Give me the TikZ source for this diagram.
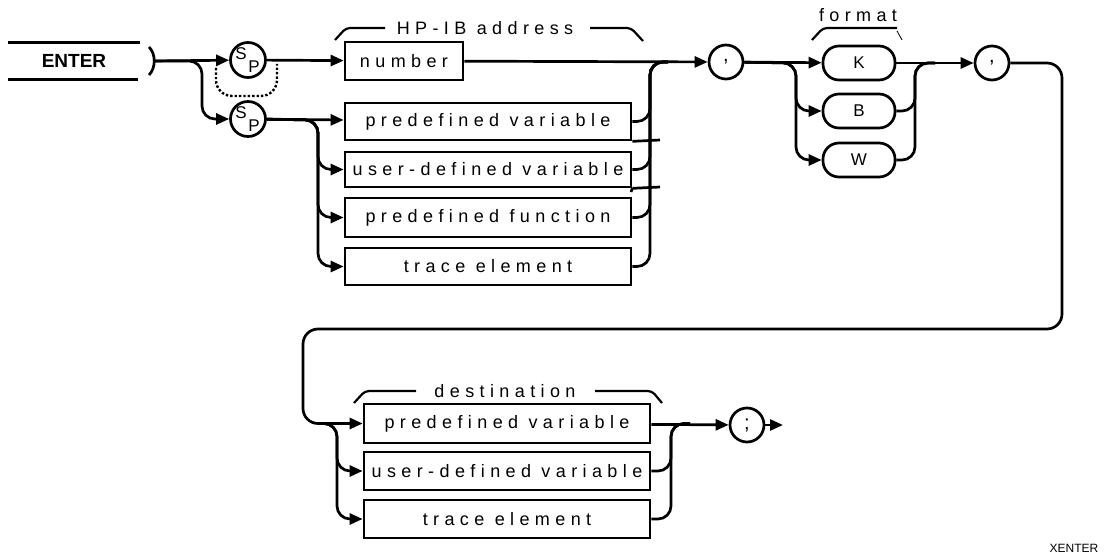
\documentclass[tikz,border=0pt]{standalone}
\usepackage{fontspec}
\setmainfont{Liberation Sans}
\newfontfamily\labf[LetterSpace=30]{Liberation Sans}
\newfontfamily\plainf{Liberation Sans}
\usetikzlibrary{arrows.meta}
\begin{document}
\begin{tikzpicture}[x=1pt,y=-1pt,
  line width=2.7pt,
  arr/.style={-{Triangle[length=13pt,width=11pt]}},
  lab/.style={font=\labf\fontsize{18}{18}\selectfont},
  box/.style={draw, rectangle, inner sep=0pt, minimum width=286pt, minimum height=37pt, lab},
  pill/.style={draw, rounded corners=16pt, inner sep=0pt, minimum width=72pt, minimum height=34pt, font=\plainf\fontsize{17}{17}\selectfont},
  circ/.style={draw, circle, inner sep=0pt, minimum size=34pt, font=\plainf\fontsize{20}{20}\selectfont},
  spc/.style={draw, circle, inner sep=0pt, minimum size=35pt},
  spl/.style={font=\plainf\fontsize{17}{17}\selectfont, inner sep=0pt},
  brk/.style={line width=2.2pt, rounded corners=4pt},
  rc/.style={rounded corners=13pt}]
\useasboundingbox (0,0) rectangle (1110,559);

% ENTER keyword
\node[inner sep=0pt, minimum width=129pt, minimum height=34pt,
      font=\bfseries\fontsize{19}{19}\selectfont] (enter) at (74,61) {ENTER};
\draw (enter.north west) -- (enter.north east);
\draw (enter.south west) -- ([xshift=-2pt]enter.south east);
\coordinate (st) at (153,61);
\draw (149,47) .. controls (156,54) and (156,68) .. (149,75);

% SP circles
\node[spc] (sp1) at (248,60) {};
\node[spl] (s1) at (241,54) {S};
\node[spl] (p1) at (254,67) {P};
\node[spc] (sp2) at (248,119) {};
\node[spl] (s2) at (241,113) {S};
\node[spl] (p2) at (254,126) {P};

\coordinate (j1) at (202,61);
\draw[arr] (st) -- (sp1);
\draw[arr, rc] (st) -- (j1) -- (202,119) -- (sp2);
\draw[dotted, line width=2.4pt, rounded corners=16pt] (216,68) -- (216,96) -- (277,96) -- (277,64);

% first group
\node[box, minimum width=118pt, minimum height=38pt] (num) at (404,61) {number};
\node[box] (pv1) at (488,121.5) {predefined variable};
\node[box, minimum height=35pt] (ud1) at (488,169.5) {user-defined variable};
\node[box, minimum height=39pt] (pf1) at (488,217.5) {predefined function};
\node[box] (te1) at (488,266.5) {trace element};
\draw (pv1.south east) -- (660,140);
\draw (ud1.south east) -- (660,187);
\draw (ud1.south east) -- (631,192);

\draw[arr] (sp1) -- (num);
\draw[arr] (sp2) -- (pv1);
\coordinate (j2) at (318,120);
\draw[arr, rc] (sp2) -- (j2) -- (318,169.5) -- (ud1);
\draw[arr, rc] (sp2) -- (j2) -- (318,217.5) -- (pf1);
\draw[arr, rc] (sp2) -- (j2) -- (318,266.5) -- (te1);

% comma 1
\node[circ] (c1) at (726,62) {,};
\draw[arr] (num) -- (c1);
\coordinate (m1) at (650,62);
\draw[rc] (pv1.east) -- (650,121.5) -- (m1) -- (668,62);
\draw[rc] (ud1.east) -- (650,169.5) -- (m1) -- (668,62);
\draw[rc] (pf1.east) -- (650,217.5) -- (m1) -- (668,62);
\draw[rc] (te1.east) -- (650,266.5) -- (m1) -- (668,62);

% HP-IB address bracket
\draw[brk] (335,40) -- (346,28) -- (385,28);
\node[lab] (hpib) at (485,28) {HP-IB address};
\draw[brk] (590,28) -- (631,28) -- (643,41);

% format group
\node[pill] (K) at (859,63) {K};
\node[pill] (B) at (859,111) {B};
\node[pill] (W) at (859,160) {W};
\draw[arr] (c1) -- (K);
\coordinate (j3) at (796,63);
\draw[arr, rc] (c1) -- (j3) -- (796,111) -- (B);
\draw[arr, rc] (c1) -- (j3) -- (796,160) -- (W);
\node[circ] (c2) at (992,63) {,};
\draw[arr] (K) -- (c2);
\coordinate (m2) at (915,63);
\draw[rc] (B.east) -- (915,111) -- (m2) -- (935,63);
\draw[rc] (W.east) -- (915,160) -- (m2) -- (935,63);

\node[lab] (fmt) at (858,15) {format};
\draw[brk] (812,40) -- (823,28) -- (897,28);
\draw[line width=0.8pt] (897,31) -- (902,40);

% destination group
\node[box, minimum height=39pt] (dpv) at (507,423.5) {predefined variable};
\node[box, minimum height=38pt] (dud) at (507,471) {user-defined variable};
\node[box, minimum height=38pt] (dte) at (507,519) {trace element};

\draw[arr, rounded corners=15pt] (c2) -- (1062,63) -- (1062,329) -- (303,329) -- (303,423.5) -- (dpv);
\coordinate (j4) at (337,423.5);
\draw[arr, rc] (320,423.5) -- (j4) -- (337,471) -- (dud);
\draw[arr, rc] (320,423.5) -- (j4) -- (337,519) -- (dte);

\node[circ] (semi) at (747,425) {;};
\draw[arr] (dpv) -- (semi);
\coordinate (m3) at (671,423.5);
\draw[rc] (dud.east) -- (671,471) -- (m3) -- (690,423.5);
\draw[rc] (dte.east) -- (671,519) -- (m3) -- (690,423.5);
\coordinate (endp) at (783,425);
\draw[arr] (semi) -- (endp);

\node[lab] (dest) at (505,391) {destination};
\draw[brk] (354,403) -- (365,391) -- (416,391);
\draw[brk] (595,391) -- (652,391) -- (662,403);

\node[font=\plainf\fontsize{12}{12}\selectfont, anchor=east] (xe) at (1103,548) {XENTER};
\end{tikzpicture}
\end{document}
